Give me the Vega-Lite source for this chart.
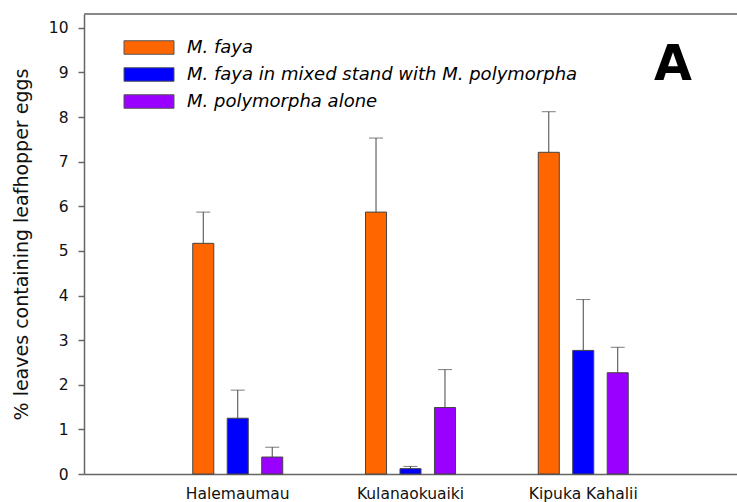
{
  "$schema": "https://vega.github.io/schema/vega-lite/v6.json",
  "width": 653,
  "height": 460,
  "autosize": {"type": "none"},
  "padding": {"left": 84, "top": 14, "right": 0, "bottom": 28},
  "background": "white",
  "title": {"text": "A", "anchor": "end", "font": "DejaVu Sans", "fontSize": 49, "fontWeight": "bold", "color": "#000", "dx": -46, "dy": 77, "baseline": "top", "offset": 0},
  "config": {
    "view": {"stroke": null},
    "font": "DejaVu Sans",
    "axis": {"domainColor": "#666", "tickColor": "#666", "domainWidth": 1.5, "labelFont": "DejaVu Sans", "titleFont": "DejaVu Sans", "labelColor": "#111", "titleColor": "#111", "grid": false},
    "axisY": {"tickSize": 6, "tickWidth": 1.5, "labelPadding": 10, "labelFontSize": 15.5, "titleFontSize": 19, "titleFontWeight": "normal", "titlePadding": 17, "values": [0,1,2,3,4,5,6,7,8,9,10]},
    "axisX": {"ticks": false, "labelPadding": 12, "labelFontSize": 15.5, "labelAngle": 0, "title": null}
  },
  "data": {"values": [
    {"site": "Halemaumau", "group": "M. faya", "value": 5.17, "upper": 5.87},
    {"site": "Halemaumau", "group": "M. faya in mixed stand with M. polymorpha", "value": 1.25, "upper": 1.88},
    {"site": "Halemaumau", "group": "M. polymorpha alone", "value": 0.38, "upper": 0.6},
    {"site": "Kulanaokuaiki", "group": "M. faya", "value": 5.87, "upper": 7.53},
    {"site": "Kulanaokuaiki", "group": "M. faya in mixed stand with M. polymorpha", "value": 0.12, "upper": 0.17},
    {"site": "Kulanaokuaiki", "group": "M. polymorpha alone", "value": 1.49, "upper": 2.34},
    {"site": "Kipuka Kahalii", "group": "M. faya", "value": 7.21, "upper": 8.12},
    {"site": "Kipuka Kahalii", "group": "M. faya in mixed stand with M. polymorpha", "value": 2.77, "upper": 3.91},
    {"site": "Kipuka Kahalii", "group": "M. polymorpha alone", "value": 2.27, "upper": 2.84}
  ]},
  "layer": [
    {
      "mark": {"type": "bar", "stroke": "#444", "strokeWidth": 1},
      "encoding": {
        "x": {"field": "site", "type": "nominal", "sort": ["Halemaumau", "Kulanaokuaiki", "Kipuka Kahalii"], "title": null, "scale": {"paddingInner": 0.08, "paddingOuter": 0.43}},
        "xOffset": {"field": "group", "type": "nominal", "sort": ["M. faya", "M. faya in mixed stand with M. polymorpha", "M. polymorpha alone"], "scale": {"paddingInner": 0.39, "paddingOuter": 1}},
        "y": {"field": "value", "type": "quantitative", "title": "% leaves containing leafhopper eggs", "scale": {"domain": [0, 10.31], "nice": false}},
        "color": {
          "field": "group", "type": "nominal",
          "scale": {"domain": ["M. faya", "M. faya in mixed stand with M. polymorpha", "M. polymorpha alone"], "range": ["#FF6600", "#0000FF", "#9900FF"]},
          "legend": {"title": null, "orient": "none", "legendX": 56, "legendY": 24.5, "padding": 0, "symbolType": "M-4,-1.08H4V1.08H-4Z", "symbolSize": 156.25, "symbolStrokeColor": "#555", "symbolStrokeWidth": 1, "symbolOpacity": 1, "labelFont": "DejaVu Sans", "labelFontSize": 18, "labelFontStyle": "italic", "labelColor": "#000", "labelLimit": 0, "labelOffset": 29, "rowPadding": 9}
        }
      }
    },
    {
      "mark": {"type": "rule", "color": "#444", "strokeWidth": 1},
      "encoding": {
        "x": {"field": "site", "type": "nominal", "sort": ["Halemaumau", "Kulanaokuaiki", "Kipuka Kahalii"], "title": null, "scale": {"paddingInner": 0.08, "paddingOuter": 0.43}},
        "xOffset": {"field": "group", "type": "nominal", "sort": ["M. faya", "M. faya in mixed stand with M. polymorpha", "M. polymorpha alone"], "scale": {"paddingInner": 0.39, "paddingOuter": 1}},
        "y": {"field": "value", "type": "quantitative", "title": "% leaves containing leafhopper eggs"},
        "y2": {"field": "upper"}
      }
    },
    {
      "mark": {"type": "tick", "color": "#444", "thickness": 1, "size": 14, "orient": "horizontal"},
      "encoding": {
        "x": {"field": "site", "type": "nominal", "sort": ["Halemaumau", "Kulanaokuaiki", "Kipuka Kahalii"], "title": null, "scale": {"paddingInner": 0.08, "paddingOuter": 0.43}},
        "xOffset": {"field": "group", "type": "nominal", "sort": ["M. faya", "M. faya in mixed stand with M. polymorpha", "M. polymorpha alone"], "scale": {"paddingInner": 0.39, "paddingOuter": 1}},
        "y": {"field": "upper", "type": "quantitative", "title": "% leaves containing leafhopper eggs"}
      }
    },
    {
      "data": {"values": [{"edge": "top"}]},
      "mark": {"type": "rule", "color": "#888", "strokeWidth": 2},
      "encoding": {
        "y": {"datum": 10.31, "type": "quantitative", "title": "% leaves containing leafhopper eggs"}
      }
    }
  ]
}
